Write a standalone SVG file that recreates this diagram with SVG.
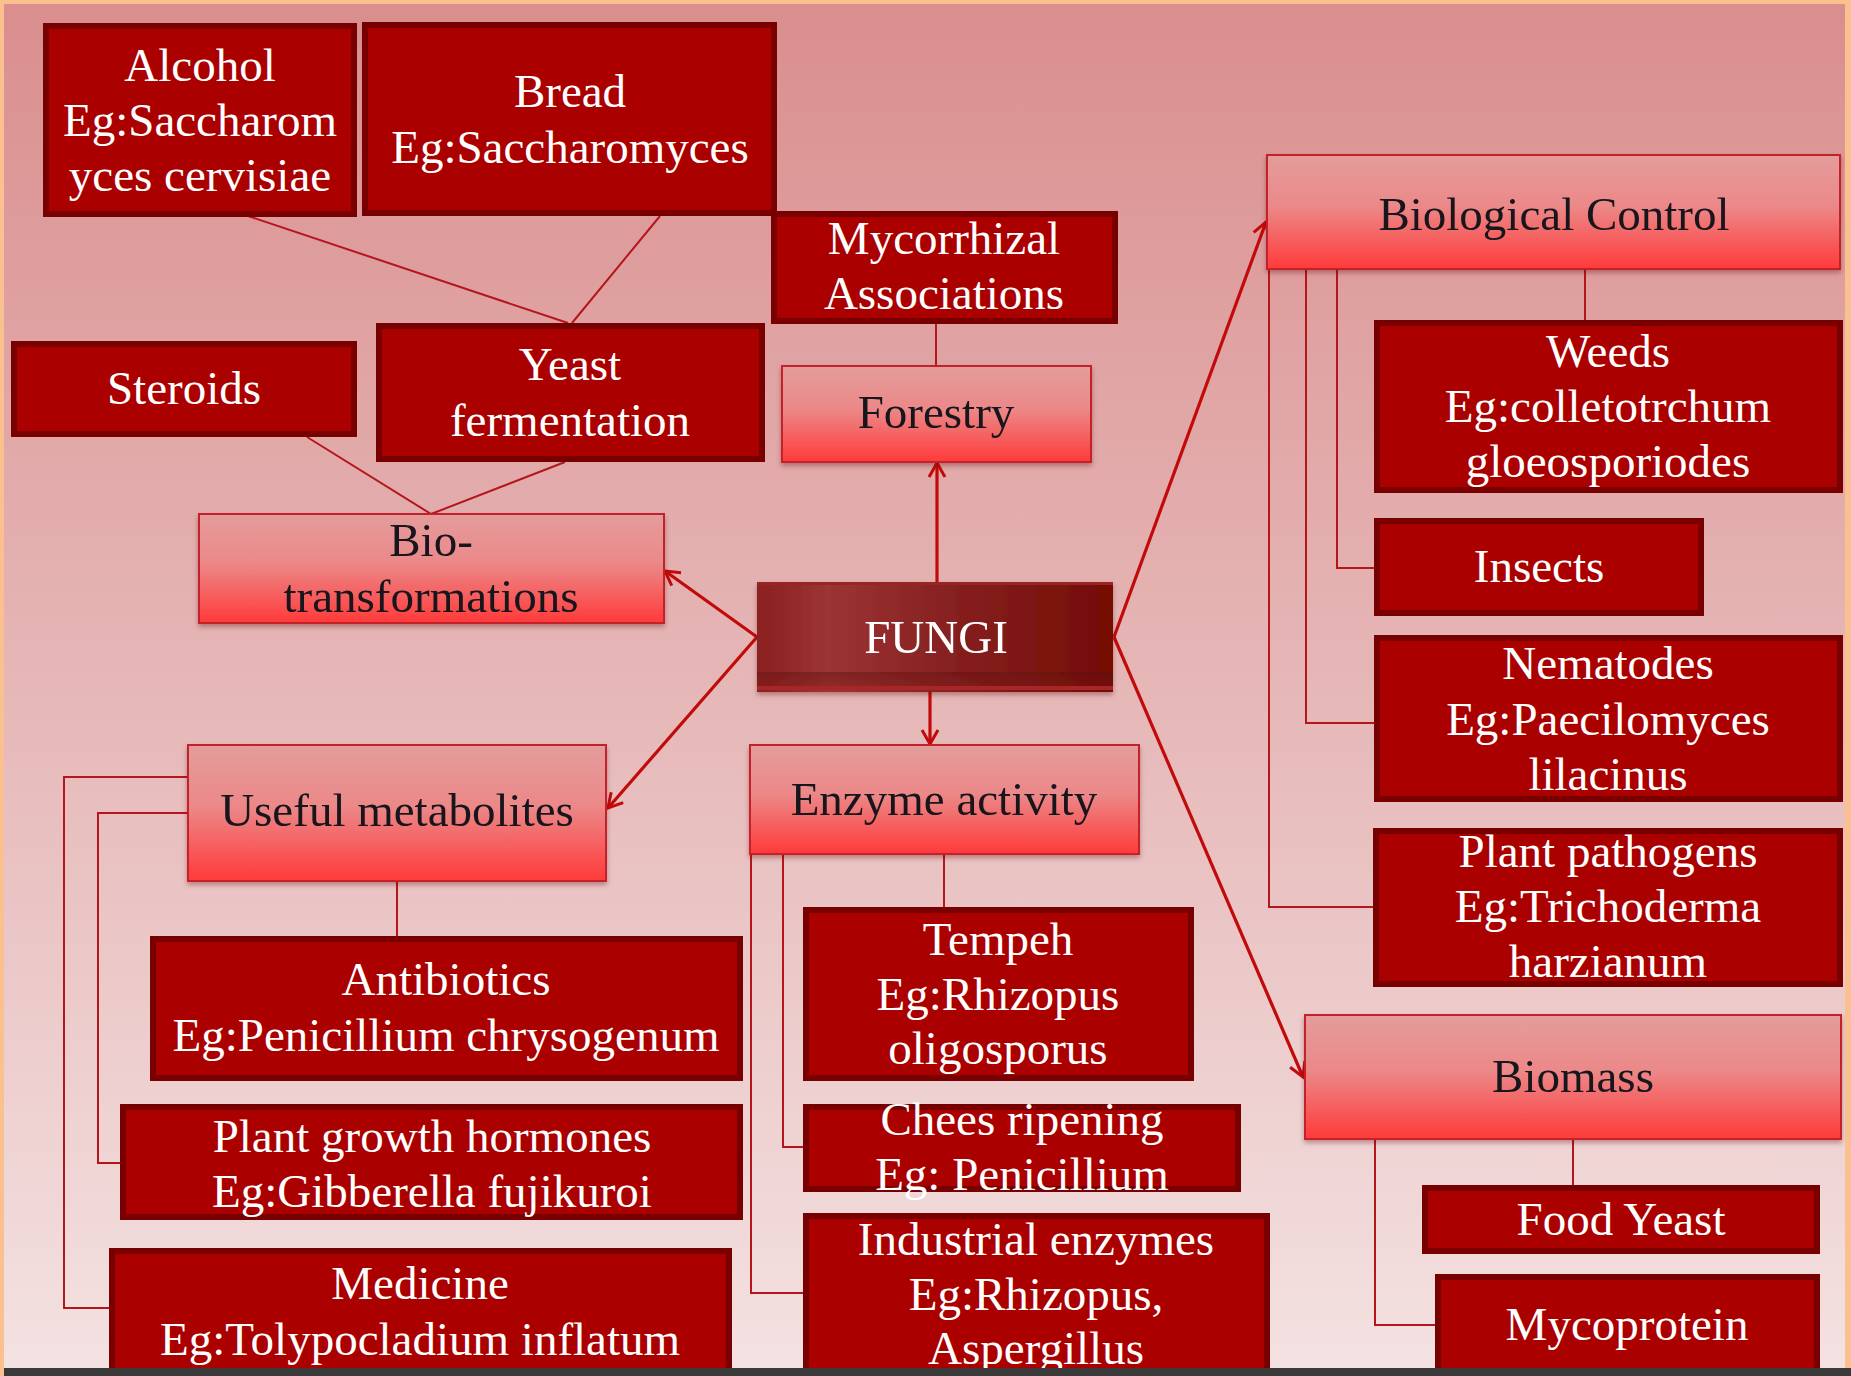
<svg xmlns="http://www.w3.org/2000/svg" width="1851" height="1376" viewBox="0 0 1851 1376">
<style>
.dk rect{fill:#AA0000;stroke:#780000;stroke-width:6}
.lt rect{fill:url(#lg);stroke:#C3242A;stroke-width:2}
.lt{filter:url(#sh)}
text{font-family:"Liberation Serif","Times New Roman",serif;font-size:47px;text-anchor:middle}
.dk text{fill:#FFFFFF}
.lt text{fill:#15141C}
.cn{fill:none;stroke:#B5161C;stroke-width:2}
.ar{fill:none;stroke:#C20A0A;stroke-width:3.2;marker-end:url(#ah)}
</style>
<defs>
<linearGradient id="bg" x1="0" y1="0" x2="0" y2="1">
<stop offset="0" stop-color="#DA8E8E"/>
<stop offset="0.5" stop-color="#E6B7B7"/>
<stop offset="1" stop-color="#F4E2E2"/>
</linearGradient>
<linearGradient id="lg" x1="0" y1="0" x2="0" y2="1">
<stop offset="0" stop-color="#E49C9C"/>
<stop offset="0.45" stop-color="#EC8888"/>
<stop offset="1" stop-color="#FF3A3A"/>
</linearGradient>
<linearGradient id="fg" x1="0" y1="0" x2="1" y2="0">
<stop offset="0" stop-color="#8A2020"/>
<stop offset="0.2" stop-color="#9C3434"/>
<stop offset="0.55" stop-color="#862020"/>
<stop offset="1" stop-color="#740C04"/>
</linearGradient>
<linearGradient id="fb" x1="0" y1="0" x2="0" y2="1">
<stop offset="0" stop-color="#5E1010" stop-opacity="0.45"/>
<stop offset="1" stop-color="#6E1414" stop-opacity="0.3"/>
</linearGradient>
<filter id="sh" x="-5%" y="-10%" width="110%" height="125%">
<feDropShadow dx="0" dy="3" stdDeviation="2.5" flood-color="#600000" flood-opacity="0.35"/>
</filter>
<marker id="ah" markerUnits="userSpaceOnUse" markerWidth="20" markerHeight="20" viewBox="0 0 20 20" refX="17" refY="10" orient="auto">
<path d="M3,2 L17,10 L3,18" fill="none" stroke="#C20A0A" stroke-width="3"/>
</marker>
</defs>

<rect x="0" y="0" width="1851" height="1376" fill="#FAC090"/>
<rect x="4" y="4" width="1841" height="1372" fill="url(#bg)"/>

<g id="connectors">
<path class="cn" d="M248,216 L568,323"/>
<path class="cn" d="M660,216 L572,323"/>
<path class="cn" d="M307,437 L431,514"/>
<path class="cn" d="M565,462 L431,514"/>
<path class="cn" d="M936,324 V366"/>
<path class="cn" d="M1585,269 V320"/>
<path class="cn" d="M1337,269 V568 H1374"/>
<path class="cn" d="M1306,269 V723 H1374"/>
<path class="cn" d="M1269,269 V907 H1373"/>
<path class="cn" d="M397,881 V936"/>
<path class="cn" d="M188,777 H64 V1308 H109"/>
<path class="cn" d="M188,813 H98 V1163 H120"/>
<path class="cn" d="M944,854 V907"/>
<path class="cn" d="M751,854 V1293 H803"/>
<path class="cn" d="M783,854 V1147 H803"/>
<path class="cn" d="M1573,1139 V1185"/>
<path class="cn" d="M1375,1139 V1325 H1435"/>
<path class="ar" d="M937,582 V463"/>
<path class="ar" d="M930,692 V744"/>
<path class="ar" d="M757,637 L665,571"/>
<path class="ar" d="M757,637 L608,808"/>
<path class="ar" d="M1114,637 L1266,222"/>
<path class="ar" d="M1114,637 L1303,1077"/>
</g>

<g id="alcohol" class="dk"><rect x="46" y="26" width="308" height="188"/>
<text><tspan x="200" y="81">Alcohol</tspan><tspan x="200" y="136">Eg:Saccharom</tspan><tspan x="200" y="191">yces cervisiae</tspan></text></g>
<g id="bread" class="dk"><rect x="365" y="25" width="409" height="188"/>
<text><tspan x="570" y="107">Bread</tspan><tspan x="570" y="163">Eg:Saccharomyces</tspan></text></g>
<g id="mycorrhizal" class="dk"><rect x="774" y="214" width="341" height="107"/>
<text><tspan x="944" y="254">Mycorrhizal</tspan><tspan x="944" y="309">Associations</tspan></text></g>
<g id="steroids" class="dk"><rect x="14" y="344" width="340" height="90"/>
<text x="184" y="404">Steroids</text></g>
<g id="yeast" class="dk"><rect x="379" y="326" width="383" height="133"/>
<text><tspan x="570" y="380">Yeast</tspan><tspan x="570" y="436">fermentation</tspan></text></g>
<g id="forestry" class="lt"><rect x="782" y="366" width="309" height="96"/>
<text x="936" y="428">Forestry</text></g>
<g id="biotransformations" class="lt"><rect x="199" y="514" width="465" height="109"/>
<text><tspan x="431" y="556">Bio-</tspan><tspan x="431" y="612">transformations</tspan></text></g>

<g id="fungi" filter="url(#sh)">
<rect x="757" y="582" width="356" height="110" fill="url(#fg)"/>
<rect x="757" y="672" width="356" height="14" fill="url(#fb)"/>
<rect x="757" y="686" width="356" height="4" fill="#A82626"/>
<rect x="757" y="582" width="356" height="3" fill="#962828"/>
<text x="936" y="653" fill="#FFFFFF" font-size="46">FUNGI</text>
</g>

<g id="biological-control" class="lt"><rect x="1267" y="155" width="573" height="114"/>
<text x="1554" y="230">Biological Control</text></g>
<g id="weeds" class="dk"><rect x="1377" y="323" width="463" height="167"/>
<text><tspan x="1608" y="367">Weeds</tspan><tspan x="1608" y="422">Eg:colletotrchum</tspan><tspan x="1608" y="477">gloeosporiodes</tspan></text></g>
<g id="insects" class="dk"><rect x="1377" y="521" width="324" height="92"/>
<text x="1539" y="582">Insects</text></g>
<g id="nematodes" class="dk"><rect x="1377" y="638" width="463" height="161"/>
<text><tspan x="1608" y="679">Nematodes</tspan><tspan x="1608" y="735">Eg:Paecilomyces</tspan><tspan x="1608" y="790">lilacinus</tspan></text></g>
<g id="plant-pathogens" class="dk"><rect x="1376" y="831" width="464" height="153"/>
<text><tspan x="1608" y="867">Plant pathogens</tspan><tspan x="1608" y="922">Eg:Trichoderma</tspan><tspan x="1608" y="977">harzianum</tspan></text></g>
<g id="biomass" class="lt"><rect x="1305" y="1015" width="536" height="124"/>
<text x="1573" y="1092">Biomass</text></g>
<g id="food-yeast" class="dk"><rect x="1425" y="1188" width="392" height="63"/>
<text x="1621" y="1235">Food Yeast</text></g>
<g id="mycoprotein" class="dk"><rect x="1438" y="1277" width="379" height="110"/>
<text x="1627" y="1340">Mycoprotein</text></g>

<g id="useful-metabolites" class="lt"><rect x="188" y="745" width="418" height="136"/>
<text x="397" y="826">Useful metabolites</text></g>
<g id="enzyme-activity" class="lt"><rect x="750" y="745" width="389" height="109"/>
<text x="944" y="815">Enzyme activity</text></g>
<g id="antibiotics" class="dk"><rect x="153" y="939" width="587" height="139"/>
<text><tspan x="446" y="995">Antibiotics</tspan><tspan x="446" y="1051">Eg:Penicillium chrysogenum</tspan></text></g>
<g id="plant-growth-hormones" class="dk"><rect x="123" y="1107" width="617" height="110"/>
<text><tspan x="432" y="1152">Plant growth hormones</tspan><tspan x="432" y="1207">Eg:Gibberella fujikuroi</tspan></text></g>
<g id="medicine" class="dk"><rect x="112" y="1251" width="617" height="136"/>
<text><tspan x="420" y="1299">Medicine</tspan><tspan x="420" y="1355">Eg:Tolypocladium inflatum</tspan></text></g>
<g id="tempeh" class="dk"><rect x="806" y="910" width="385" height="168"/>
<text><tspan x="998" y="955">Tempeh</tspan><tspan x="998" y="1010">Eg:Rhizopus</tspan><tspan x="998" y="1064">oligosporus</tspan></text></g>
<g id="chees-ripening" class="dk"><rect x="806" y="1107" width="432" height="82"/>
<text><tspan x="1022" y="1135">Chees ripening</tspan><tspan x="1022" y="1190">Eg: Penicillium</tspan></text></g>
<g id="industrial-enzymes" class="dk"><rect x="806" y="1216" width="461" height="170"/>
<text><tspan x="1036" y="1255">Industrial enzymes</tspan><tspan x="1036" y="1310">Eg:Rhizopus,</tspan><tspan x="1036" y="1364">Aspergillus</tspan></text></g>

<rect x="0" y="0" width="4" height="1376" fill="#FAC090"/>
<rect x="1845" y="0" width="6" height="1376" fill="#FAC090"/>
<rect x="4" y="1368" width="1847" height="8" fill="#3A3A3A"/>
</svg>
